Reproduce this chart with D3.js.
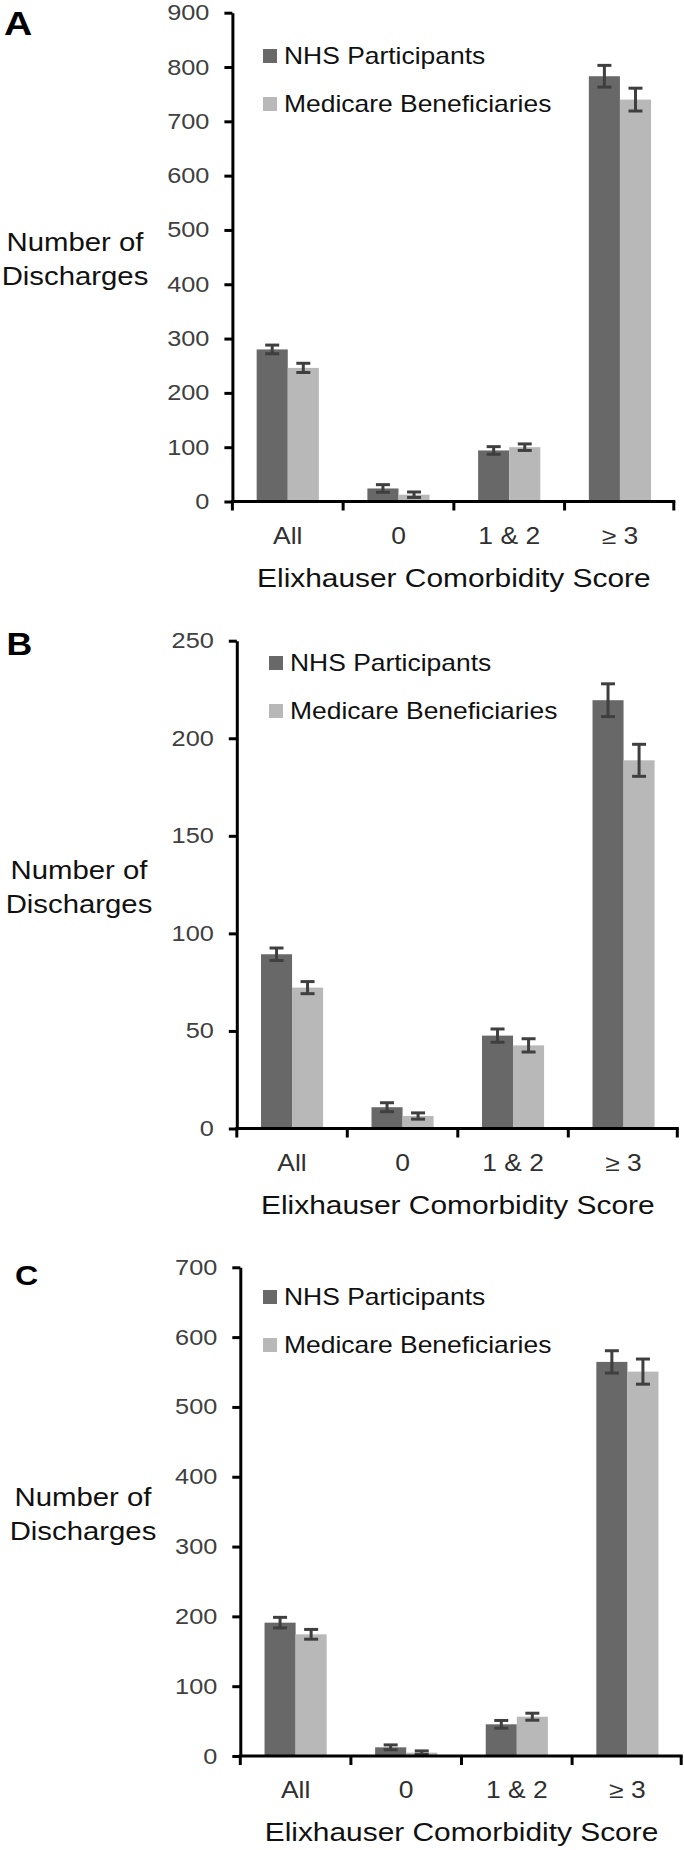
<!DOCTYPE html>
<html>
<head>
<meta charset="utf-8">
<script src="https://cdn.jsdelivr.net/npm/d3@7"></script>
<style>
  body { margin: 0; background: #fff; }
  text { font-family: "Liberation Sans", Arial, sans-serif; }
</style>
</head>
<body>
<div id="chart"></div>
<script>
// categories and series
var categories = ["All", "0", "1 & 2", "\u2265 3"];
var seriesNames = ["NHS Participants", "Medicare Beneficiaries"];

// panel A
var ticksA = [0, 100, 200, 300, 400, 500, 600, 700, 800, 900];
var nhsA = [280, 24, 94, 783];
var nhsErrA = [8, 7, 7, 20];
var medA = [246, 12.5, 100, 740];
var medErrA = [8.5, 5, 6, 21];

// panel B
var ticksB = [0, 50, 100, 150, 200, 250];
var nhsB = [89.3, 10.9, 47.6, 219.5];
var nhsErrB = [3.2, 2.3, 3.4, 8.4];
var medB = [72.2, 6.4, 42.6, 188.7];
var medErrB = [3.1, 1.6, 3.4, 8.2];

// panel C
var ticksC = [0, 100, 200, 300, 400, 500, 600, 700];
var nhsC = [191, 12.4, 45.4, 564.5];
var nhsErrC = [7.6, 3.5, 5.5, 16];
var medC = [174.3, 4.8, 56.3, 550.6];
var medErrC = [7, 2.5, 5, 18];

var svgWidth = 684;
var svgHeight = 1850;
var stretch = 1.15;   // the original figure is a bit wider than plain Arial
var colors = ["#686868", "#b8b8b8"];
var errColor = "#3f3f3f";

var panels = [
  {letter: "A", ticks: ticksA, vals: [nhsA, medA], errs: [nhsErrA, medErrA],
   left: 232.4, right: 675.3, top: 12.7, bottom: 501.5,
   letterX: 4, letterY: 35, letterSize: 34, labelX: 75, legendX: 263, legendDy: 36.3},
  {letter: "B", ticks: ticksB, vals: [nhsB, medB], errs: [nhsErrB, medErrB],
   left: 236.8, right: 678.8, top: 640.7, bottom: 1128.5,
   letterX: 6.6, letterY: 655, letterSize: 31, labelX: 79, legendX: 269, legendDy: 15.3},
  {letter: "C", ticks: ticksC, vals: [nhsC, medC], errs: [nhsErrC, medErrC],
   left: 240.3, right: 682.7, top: 1267.3, bottom: 1756,
   letterX: 15, letterY: 1285, letterSize: 28, labelX: 83, legendX: 263, legendDy: 22.7}
];

var svg = d3.select("#chart")
  .append("svg")
  .attr("width", svgWidth)
  .attr("height", svgHeight);

function addText(g, x, y, str, size, anchor, fill, weight) {
  return g.append("text")
    .attr("transform", `translate(${x},${y}) scale(${stretch},1)`)
    .attr("text-anchor", anchor)
    .attr("font-size", size)
    .attr("font-weight", weight || "normal")
    .attr("fill", fill)
    .text(str);
}

panels.forEach(function(p) {
  var g = svg.append("g");

  var yScale = d3.scaleLinear()
    .domain([0, d3.max(p.ticks)])
    .range([p.bottom, p.top]);

  var xScale = d3.scaleBand()
    .domain(categories)
    .range([p.left, p.right]);

  var xSub = d3.scaleBand()
    .domain(seriesNames)
    .range([0, xScale.bandwidth()])
    .paddingOuter(0.78);

  // bars
  seriesNames.forEach(function(name, j) {
    var rows = categories.map(function(c, i) {
      return {cat: c, v: p.vals[j][i], e: p.errs[j][i]};
    });

    g.append("g").selectAll("rect")
      .data(rows)
      .enter()
      .append("rect")
      .attr("x", d => xScale(d.cat) + xSub(name))
      .attr("width", xSub.bandwidth())
      .attr("y", d => yScale(d.v))
      .attr("height", d => yScale(0) - yScale(d.v))
      .attr("fill", colors[j]);

    // error bars
    var eb = g.append("g")
      .attr("stroke", errColor)
      .attr("stroke-width", 3);
    var cx = d => xScale(d.cat) + xSub(name) + xSub.bandwidth() / 2;

    eb.selectAll("line.v")
      .data(rows).enter().append("line")
      .attr("x1", cx).attr("x2", cx)
      .attr("y1", d => yScale(d.v + d.e))
      .attr("y2", d => yScale(Math.max(0, d.v - d.e)));
    eb.selectAll("line.top")
      .data(rows).enter().append("line")
      .attr("x1", d => cx(d) - 7).attr("x2", d => cx(d) + 7)
      .attr("y1", d => yScale(d.v + d.e))
      .attr("y2", d => yScale(d.v + d.e));
    eb.selectAll("line.bot")
      .data(rows).enter().append("line")
      .attr("x1", d => cx(d) - 7).attr("x2", d => cx(d) + 7)
      .attr("y1", d => yScale(Math.max(0, d.v - d.e)))
      .attr("y2", d => yScale(Math.max(0, d.v - d.e)));
  });

  // y axis
  var leftAxis = d3.axisLeft(yScale)
    .tickValues(p.ticks)
    .tickSize(8)
    .tickSizeOuter(0);

  var ya = g.append("g")
    .attr("transform", `translate(${p.left},0)`)
    .call(leftAxis);
  ya.select(".domain").attr("stroke", "#000").attr("stroke-width", 3);
  ya.selectAll(".tick line").attr("stroke", "#000").attr("stroke-width", 3);
  ya.selectAll(".tick text")
    .attr("x", null)
    .attr("transform", `translate(-23,0) scale(${stretch},1)`)
    .attr("font-size", 22)
    .attr("font-family", "Liberation Sans, Arial, sans-serif")
    .attr("fill", "#404040");

  // x axis with ticks at the band edges
  var y0 = yScale(0);
  g.append("line")
    .attr("x1", p.left - 1.5).attr("x2", p.right)
    .attr("y1", y0).attr("y2", y0)
    .attr("stroke", "#000").attr("stroke-width", 3);

  var edges = categories.map(c => xScale(c)).concat([p.right - 1.5]);
  g.append("g").selectAll("line")
    .data(edges)
    .enter()
    .append("line")
    .attr("x1", d => d).attr("x2", d => d)
    .attr("y1", y0).attr("y2", y0 + 9)
    .attr("stroke", "#000").attr("stroke-width", 3);

  categories.forEach(function(c) {
    addText(g, xScale(c) + xScale.bandwidth() / 2, y0 + 42, c, 23, "middle", "#303030");
  });

  // axis titles
  addText(g, (p.left + p.right) / 2, y0 + 85, "Elixhauser Comorbidity Score", 26, "middle", "#111");
  var mid = (p.top + p.bottom) / 2;
  addText(g, p.labelX, mid - 6, "Number of", 25.5, "middle", "#111");
  addText(g, p.labelX, mid + 28, "Discharges", 25.5, "middle", "#111");

  // panel letter
  addText(g, p.letterX, p.letterY, p.letter, p.letterSize, "start", "#000", "bold");

  // legend
  seriesNames.forEach(function(name, j) {
    var ly = p.top + p.legendDy + j * 48;
    g.append("rect")
      .attr("x", p.legendX).attr("y", ly)
      .attr("width", 14).attr("height", 14)
      .attr("fill", colors[j]);
    addText(g, p.legendX + 21, ly + 15.3, name, 23, "start", "#111");
  });
});
</script>
</body>
</html>
